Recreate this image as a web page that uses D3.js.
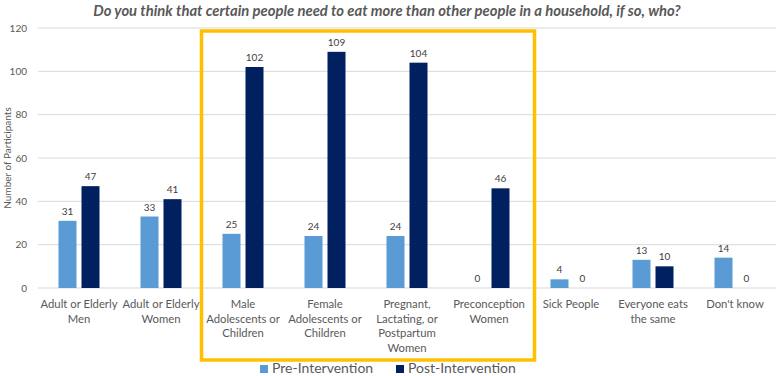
<!DOCTYPE html>
<html><head><meta charset="utf-8">
<script src="https://cdn.jsdelivr.net/npm/d3@7"></script>
<style>body{margin:0;background:#fff}svg{display:block}text{font-family:Lato,"Open Sans",sans-serif}</style>
</head><body><svg id="c" width="780" height="376"></svg>
<script>
const categories = [
  ["Adult or Elderly","Men"],
  ["Adult or Elderly","Women"],
  ["Male","Adolescents or","Children"],
  ["Female","Adolescents or","Children"],
  ["Pregnant,","Lactating, or","Postpartum","Women"],
  ["Preconception","Women"],
  ["Sick People"],
  ["Everyone eats","the same"],
  ["Don't know"]
];
const preValues  = [31, 33, 25, 24, 24, 0, 4, 13, 14];
const postValues = [47, 41, 102, 109, 104, 46, 0, 10, 0];
const seriesNames = ["Pre-Intervention", "Post-Intervention"];
const yTicks = [0, 20, 40, 60, 80, 100, 120];
const highlighted = [2, 3, 4, 5];

const colors = ["#5B9BD5", "#002060"];
const svg = d3.select("#c");
const x = d3.scaleBand().domain(d3.range(categories.length)).range([38, 776]).padding(0);
const y = d3.scaleLinear().domain([0, 120]).range([288, 28]);
const bw = 18, off = 11.5;

svg.append("text").attr("x", 387).attr("y", 16).attr("text-anchor", "middle")
  .attr("font-size", 14.8).attr("font-weight", "bold").attr("font-style", "italic").attr("fill", "#595959")
  .text("Do you think that certain people need to eat more than other people in a household, if so, who?");

// grid
svg.append("g").selectAll("line").data(yTicks).join("line")
  .attr("x1", 38).attr("x2", 776).attr("y1", d => y(d)).attr("y2", d => y(d))
  .attr("stroke", "#D9D9D9").attr("stroke-width", 1);
svg.append("g").selectAll("text").data(yTicks).join("text")
  .attr("x", 27).attr("y", d => y(d) + 3.5).attr("text-anchor", "end")
  .attr("font-size", 10).attr("fill", "#595959").text(d => d);

svg.append("text").attr("transform", "translate(11,158) rotate(-90)").attr("text-anchor", "middle")
  .attr("font-size", 10).attr("fill", "#595959").text("Number of Participants");

const series = [preValues, postValues];
series.forEach((vals, s) => {
  const dx = s === 0 ? -off : off;
  const g = svg.append("g");
  g.selectAll("rect").data(vals).join("rect")
    .attr("x", (d, i) => x(i) + x.bandwidth() / 2 + dx - bw / 2)
    .attr("width", bw)
    .attr("y", d => y(d)).attr("height", d => y(0) - y(d))
    .attr("fill", colors[s]);
  g.selectAll("text").data(vals).join("text")
    .attr("x", (d, i) => x(i) + x.bandwidth() / 2 + dx)
    .attr("y", d => y(d) - 6).attr("text-anchor", "middle")
    .attr("font-size", 10).attr("fill", "#404040").text(d => d);
});

// category labels
const cl = svg.append("g");
categories.forEach((lines, i) => {
  const t = cl.append("text").attr("text-anchor", "middle").attr("font-size", 11.3).attr("fill", "#595959");
  lines.forEach((ln, j) => {
    t.append("tspan").attr("x", x(i) + x.bandwidth() / 2).attr("y", 308 + j * 14.5).text(ln);
  });
});

// highlight box
const hx0 = x(highlighted[0]), hx1 = x(highlighted[highlighted.length - 1]) + x.bandwidth();
svg.append("rect").attr("x", hx0 - 0.5).attr("y", 31).attr("width", hx1 - hx0 + 5).attr("height", 329)
  .attr("fill", "none").attr("stroke", "#FFC000").attr("stroke-width", 3.5);

// legend
const leg = svg.append("g");
const lpos = [260, 396];
seriesNames.forEach((n, i) => {
  leg.append("rect").attr("x", lpos[i]).attr("y", 365).attr("width", 8).attr("height", 8).attr("fill", colors[i]);
  leg.append("text").attr("x", lpos[i] + 12).attr("y", 372.5).attr("font-size", 14).attr("fill", "#595959").text(n);
});
</script></body></html>
